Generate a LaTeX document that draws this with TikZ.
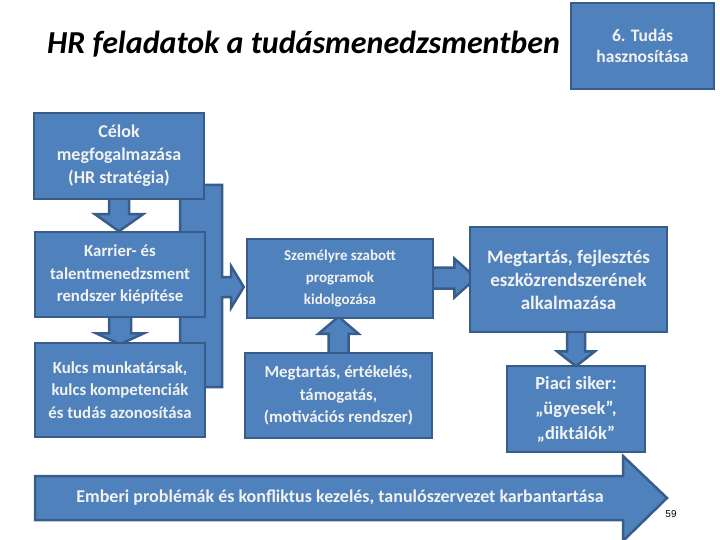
\documentclass[tikz,border=0pt]{standalone}
\usepackage{fontspec}
\setmainfont{Carlito}
\newfontfamily\pagefont{Liberation Sans}
\usetikzlibrary{calc}
\definecolor{hrblue}{RGB}{79,129,189}
\definecolor{hredge}{RGB}{56,93,138}
\definecolor{hrtext}{RGB}{242,242,242}
\pgfdeclarelayer{background}
\pgfsetlayers{background,main}

\tikzset{
  hrbox/.style={draw=hredge, fill=hrblue, line width=2.5pt, text=hrtext,
    font=\bfseries\fontsize{16.8}{22.5}\selectfont, align=center, inner sep=0pt},
  blockarr/.style={draw=hredge, fill=hrblue, line width=2.5pt, line join=miter}
}

\begin{document}
\begin{tikzpicture}[x=1pt,y=-1pt]
\useasboundingbox (0,0) rectangle (720,540);

% title and corner box
\node[font=\bfseries\itshape\fontsize{32}{36}\selectfont] (title) at (303.5,44) {HR feladatok a tudásmenedzsmentben};
\node[hrbox, minimum width=143, minimum height=86, font=\bfseries\fontsize{17.5}{21}\selectfont] (tudas) at (642.5,46) {6. Tudás\\hasznosítása};

% left column
\node[hrbox, minimum width=170, minimum height=86, font=\bfseries\fontsize{18}{23}\selectfont] (cel) at (119,156) {Célok\\megfogalmazása\\(HR stratégia)};
\node[hrbox, minimum width=170, minimum height=85] (kar) at (120,274.5) {Karrier- és\\talentmenedzsment\\rendszer kiépítése};
\node[hrbox, minimum width=170, minimum height=94] (kul) at (120,390) {Kulcs munkatársak,\\kulcs kompetenciák\\és tudás azonosítása};

% middle column
\node[hrbox, minimum width=186, minimum height=79, font=\bfseries\fontsize{15}{22}\selectfont] (szem) at (340,278.5) {Személyre szabott\\programok\\kidolgozása};
\node[hrbox, minimum width=187, minimum height=85] (ert) at (338.5,395.5) {Megtartás, értékelés,\\támogatás,\\(motivációs rendszer)};

% right column
\node[hrbox, minimum width=197, minimum height=105, font=\bfseries\fontsize{19}{23}\selectfont] (fejl) at (568.5,279.5) {Megtartás, fejlesztés\\eszközrendszerének\\alkalmazása};
\node[hrbox, minimum width=138, minimum height=86, font=\bfseries\fontsize{18.5}{25}\selectfont] (piaci) at (576,409) {Piaci siker:\\„ügyesek”,\\„diktálók”};

% bottom arrow
\draw[blockarr] (35,476) -- (623,476) -- (623,456) -- (667,498) -- (623,541) -- (623,520) -- (35,520) -- cycle;
\node[text=hrtext, font=\bfseries\fontsize{18}{22}\selectfont] (emberi) at (340,498) {Emberi problémák és konfliktus kezelés, tanulószervezet karbantartása};
\node[font=\pagefont\fontsize{10}{12}\selectfont] (page) at (671,514) {59};

\begin{pgfonlayer}{background}
  % bracket behind the left column
  \draw[blockarr] (180,185) -- (222,185) -- (222,277) -- (231,277) -- (231,266) -- ($(szem.west)+(-2,8.5)$)
    -- (231,308) -- (231,297) -- (222,297) -- (222,387) -- (180,387) -- cycle;
  % block arrows
  \draw[blockarr] ($(cel.south)+(-10,-4)$) -- ++(0,18) -- ++(-14,0) -- ++(24,17) -- ++(24,-17) -- ++(-14,0) -- ++(0,-18) -- cycle;
  \draw[blockarr] ($(kar.south)+(-11,-4)$) -- ++(0,19) -- ++(-13,0) -- ++(24,11) -- ++(24,-11) -- ++(-13,0) -- ++(0,-19) -- cycle;
  \draw[blockarr] ($(ert.north)+(-10,4)$) -- ++(0,-22) -- ++(-10,0) -- ++(20,-17) -- ++(20,17) -- ++(-10,0) -- ++(0,22) -- cycle;
  \draw[blockarr] ($(szem.east)+(-4,-11)$) -- ++(24,0) -- ++(0,-9) -- ++(22,19.5) -- ++(-22,19.5) -- ++(0,-9) -- ++(-24,0) -- cycle;
  \draw[blockarr] ($(fejl.south -| piaci.north)+(-9,-4)$) -- ++(0,22) -- ++(-10,0) -- ++(19,15) -- ++(19,-15) -- ++(-10,0) -- ++(0,-22) -- cycle;
\end{pgfonlayer}
\end{tikzpicture}
\end{document}
